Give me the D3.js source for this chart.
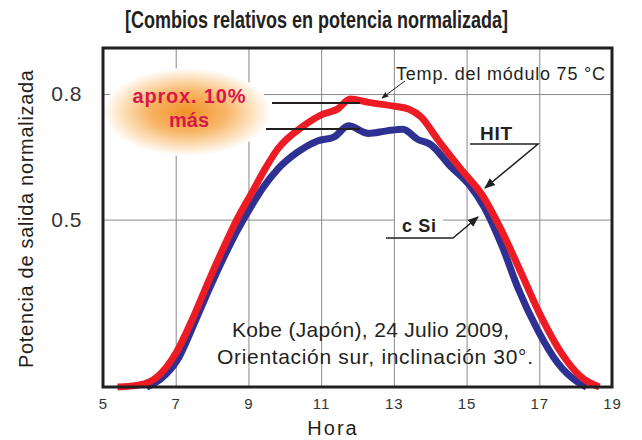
<!DOCTYPE html>
<html>
<head>
<meta charset="utf-8">
<script src="https://cdn.jsdelivr.net/npm/d3@7"></script>
<style>
    body { margin: 0; background: #fff; }
    svg { display: block; font-family: "Liberation Sans", Arial, sans-serif; }
    .axis path, .axis line { display: none; }
    .axis text { fill: #333; }
    .grid line { stroke: #8a8a8a; stroke-width: 1; }
    .grid path { display: none; }
</style>
</head>
<body>
<div id="chart"></div>
<script>
const xTicks = [5, 7, 9, 11, 13, 15, 17, 19];
const yTicks = [0.5, 0.8];

const hitHours = [5.4, 6.0, 6.5, 7.0, 7.5, 7.9, 8.3, 8.7, 9.1, 9.45, 9.8, 10.5, 11.05, 11.45, 11.8, 12.3, 13.0, 13.4, 13.75, 14.2, 14.85, 15.45, 15.95, 16.5, 17.05, 17.6, 18.15, 18.65];
const hitValues = [0.1, 0.105, 0.125, 0.18, 0.27, 0.352, 0.43, 0.503, 0.565, 0.62, 0.668, 0.723, 0.752, 0.764, 0.788, 0.78, 0.771, 0.764, 0.745, 0.692, 0.62, 0.556, 0.476, 0.373, 0.268, 0.182, 0.124, 0.1];

const cSiHours = [6.2, 6.6, 7.05, 7.5, 7.95, 8.35, 8.7, 9.05, 9.4, 9.8, 10.35, 10.9, 11.35, 11.75, 12.3, 12.8, 13.25, 13.65, 14.0, 14.55, 15.1, 15.47, 15.98, 16.43, 16.95, 17.5, 18.05, 18.3];
const cSiValues = [0.1, 0.12, 0.165, 0.25, 0.34, 0.415, 0.475, 0.528, 0.576, 0.62, 0.661, 0.688, 0.697, 0.724, 0.706, 0.712, 0.716, 0.692, 0.68, 0.628, 0.58, 0.532, 0.436, 0.333, 0.237, 0.158, 0.112, 0.1];

const width = 642, height = 440;
const plotLeft = 103, plotRight = 612, plotTop = 48, plotBottom = 387;

const svg = d3.select('#chart').append('svg')
    .attr('width', width)
    .attr('height', height);

const defs = svg.append('defs');
const glow = defs.append('radialGradient').attr('id', 'glow');
glow.append('stop').attr('offset', '0%').attr('stop-color', '#f29128');
glow.append('stop').attr('offset', '45%').attr('stop-color', '#f7b565');
glow.append('stop').attr('offset', '80%').attr('stop-color', '#fde4c4');
glow.append('stop').attr('offset', '100%').attr('stop-color', '#ffffff');

const addArrow = (id, size) => {
    defs.append('marker')
        .attr('id', id)
        .attr('viewBox', '0 0 10 10')
        .attr('refX', 9).attr('refY', 5)
        .attr('markerWidth', size).attr('markerHeight', size)
        .attr('markerUnits', 'userSpaceOnUse')
        .attr('orient', 'auto')
        .append('path').attr('d', 'M0,1 L10,5 L0,9 Z').attr('fill', '#222');
};
addArrow('arrow', 7);
addArrow('arrowBig', 11);

const x = d3.scaleLinear().domain([5, 19]).range([plotLeft, plotRight]);
const y = d3.scaleLinear().domain([0.1, 0.91]).range([plotBottom, plotTop]);

// grid
svg.append('g')
    .attr('class', 'grid')
    .attr('transform', 'translate(0,' + plotBottom + ')')
    .call(d3.axisBottom(x).tickValues(xTicks.slice(1, -1)).tickSize(-(plotBottom - plotTop)).tickFormat(''));

svg.append('g')
    .attr('class', 'grid')
    .attr('transform', 'translate(' + plotLeft + ',0)')
    .call(d3.axisLeft(y).tickValues(yTicks).tickSize(-(plotRight - plotLeft)).tickFormat(''));

// glow bubble
svg.append('ellipse')
    .attr('cx', 187).attr('cy', 112)
    .attr('rx', 84).attr('ry', 44)
    .attr('fill', 'url(#glow)');

// c Si label sits on a white patch over the 0.5 grid line
svg.append('rect')
    .attr('x', 395).attr('y', 214).attr('width', 48).attr('height', 14)
    .attr('fill', '#fff');

const line = (hours, values) => d3.line()
    .x((d, i) => x(hours[i]))
    .y(d => y(d))
    .curve(d3.curveMonotoneX)(values);

svg.append('path')
    .attr('d', line(cSiHours, cSiValues))
    .attr('fill', 'none')
    .attr('stroke', '#2e3192')
    .attr('stroke-width', 7)
    .attr('stroke-linejoin', 'round');

svg.append('path')
    .attr('d', line(hitHours, hitValues))
    .attr('fill', 'none')
    .attr('stroke', '#ed1c24')
    .attr('stroke-width', 7)
    .attr('stroke-linejoin', 'round');

// frame
svg.append('rect')
    .attr('x', plotLeft).attr('y', plotTop)
    .attr('width', plotRight - plotLeft).attr('height', plotBottom - plotTop)
    .attr('fill', 'none')
    .attr('stroke', '#231f20')
    .attr('stroke-width', 3);

// axes
svg.append('g')
    .attr('class', 'axis')
    .attr('transform', 'translate(0,' + plotBottom + ')')
    .call(d3.axisBottom(x).tickValues(xTicks).tickSize(0).tickPadding(11))
    .selectAll('text')
    .style('font-size', '15px')
    .style('letter-spacing', '1px');

svg.append('g')
    .attr('class', 'axis')
    .attr('transform', 'translate(' + plotLeft + ',0)')
    .call(d3.axisLeft(y).tickValues(yTicks).tickSize(0).tickPadding(21).tickFormat(d3.format('.1f')))
    .selectAll('text')
    .style('font-size', '21px')
    .style('letter-spacing', '0.5px');

// titles
svg.append('text')
    .attr('x', 125).attr('y', 28)
    .style('font-weight', 'bold')
    .style('font-size', '23px')
    .attr('textLength', 383)
    .attr('lengthAdjust', 'spacingAndGlyphs')
    .attr('fill', '#231f20')
    .text('[Combios relativos en potencia normalizada]');

svg.append('text')
    .attr('transform', 'translate(33,219) rotate(-90)')
    .attr('text-anchor', 'middle')
    .style('font-size', '20px')
    .attr('textLength', 298)
    .attr('fill', '#231f20')
    .text('Potencia de salida normalizada');

svg.append('text')
    .attr('x', 333).attr('y', 435)
    .attr('text-anchor', 'middle')
    .style('font-size', '20px')
    .style('letter-spacing', '2px')
    .attr('fill', '#231f20')
    .text('Hora');

// annotations
svg.append('text')
    .attr('x', 189).attr('y', 103)
    .attr('text-anchor', 'middle')
    .style('font-size', '20px').style('font-weight', 'bold')
    .attr('textLength', 113)
    .attr('fill', '#d7194a')
    .text('aprox. 10%');
svg.append('text')
    .attr('x', 189).attr('y', 127)
    .attr('text-anchor', 'middle')
    .style('font-size', '20px').style('font-weight', 'bold')
    .attr('fill', '#d7194a')
    .text('más');

svg.append('line')
    .attr('x1', 272).attr('y1', 103).attr('x2', 360).attr('y2', 103)
    .attr('stroke', '#231f20').attr('stroke-width', 2);
svg.append('line')
    .attr('x1', 266).attr('y1', 129).attr('x2', 360).attr('y2', 129)
    .attr('stroke', '#231f20').attr('stroke-width', 2);

svg.append('text')
    .attr('x', 396).attr('y', 80)
    .style('font-size', '18px')
    .attr('textLength', 209)
    .attr('fill', '#231f20')
    .text('Temp. del módulo 75 °C');
svg.append('line')
    .attr('x1', 405).attr('y1', 81).attr('x2', 382).attr('y2', 98)
    .attr('stroke', '#231f20').attr('stroke-width', 1)
    .attr('marker-end', 'url(#arrow)');

svg.append('text')
    .attr('x', 480).attr('y', 140)
    .style('font-size', '19px').style('font-weight', 'bold')
    .attr('textLength', 32)
    .attr('fill', '#231f20')
    .text('HIT');
svg.append('polyline')
    .attr('points', '470,144 538,144 485,188')
    .attr('fill', 'none')
    .attr('stroke', '#231f20').attr('stroke-width', 1.5)
    .attr('marker-end', 'url(#arrowBig)');

svg.append('text')
    .attr('x', 402).attr('y', 232)
    .style('font-size', '18px').style('font-weight', 'bold')
    .attr('textLength', 34)
    .attr('fill', '#231f20')
    .text('c Si');
svg.append('polyline')
    .attr('points', '386,238 453,238 478,217')
    .attr('fill', 'none')
    .attr('stroke', '#231f20').attr('stroke-width', 1.5)
    .attr('marker-end', 'url(#arrowBig)');

svg.append('text')
    .attr('x', 232).attr('y', 337)
    .style('font-size', '21px')
    .attr('textLength', 277)
    .attr('fill', '#231f20')
    .text('Kobe (Japón), 24 Julio 2009,');
svg.append('text')
    .attr('x', 217).attr('y', 364)
    .style('font-size', '21px')
    .attr('textLength', 316)
    .attr('fill', '#231f20')
    .text('Orientación sur, inclinación 30°.');
</script>
</body>
</html>
